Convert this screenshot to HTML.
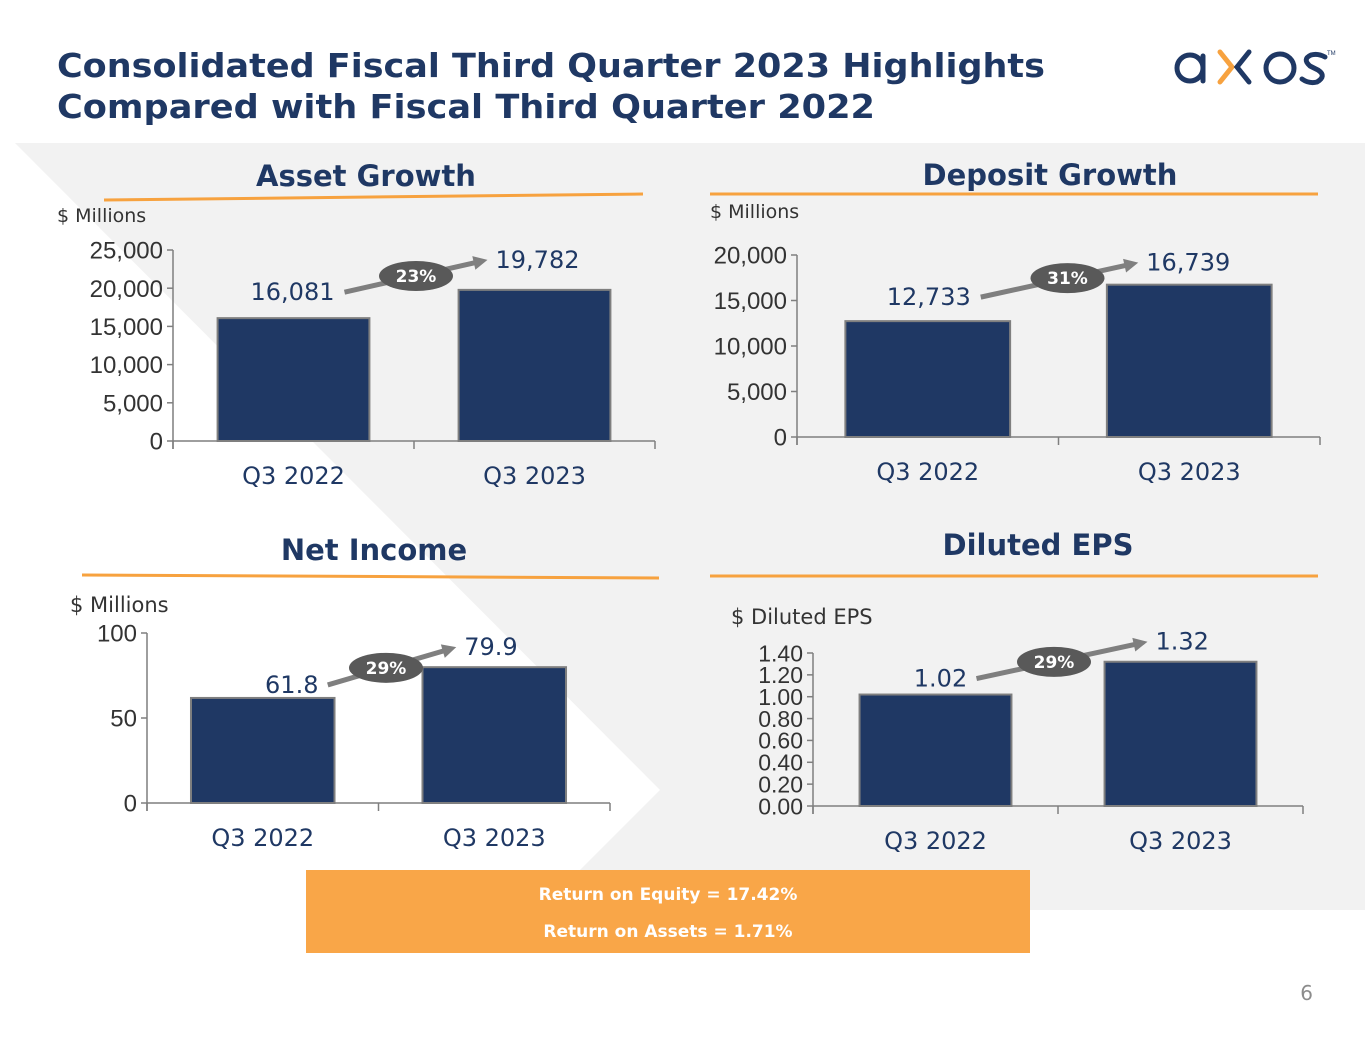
<!DOCTYPE html>
<html><head><meta charset="utf-8"><style>
html,body{margin:0;padding:0;background:#fff;}
svg{display:block;}
</style></head><body>
<svg id="s" width="1365" height="1055" viewBox="0 0 1365 1055" xmlns="http://www.w3.org/2000/svg">
<polygon points="15,143 1365,143 1365,910 540,910 660,790" fill="#f2f2f2"/>
<text x="57" y="77" font-family="DejaVu Sans, sans-serif" font-weight="bold" font-size="33" fill="#1f3864" textLength="988" lengthAdjust="spacingAndGlyphs">Consolidated Fiscal Third Quarter 2023 Highlights</text>
<text x="57" y="118" font-family="DejaVu Sans, sans-serif" font-weight="bold" font-size="33" fill="#1f3864" textLength="818" lengthAdjust="spacingAndGlyphs">Compared with Fiscal Third Quarter 2022</text>
<g fill="none" stroke-width="5" stroke-linecap="round">
<circle cx="1190" cy="68" r="13" stroke="#1f3864"/><line x1="1203" y1="56" x2="1203" y2="81" stroke="#1f3864"/>
<polyline points="1220,52 1232,67 1220,82" stroke="#f7a23f"/><polyline points="1249,52 1237,67 1249,82" stroke="#1f3864"/>
<circle cx="1280" cy="68" r="14" stroke="#1f3864"/>
<path d="M1325,57 Q1318,53 1311,55 Q1302,59 1310,66 L1318,70 Q1327,76 1317,82 Q1309,84 1302,79" stroke="#1f3864"/>
<text x="1327" y="55" font-size="6" fill="#1f3864" stroke="none" font-family="Liberation Sans, sans-serif">TM</text>
</g>
<g id="charts"></g>
<rect x="306" y="870" width="724" height="83" fill="#f9a648"/>
<text x="668" y="900" text-anchor="middle" font-family="DejaVu Sans, sans-serif" font-weight="bold" font-size="17" fill="#fff">Return on Equity = 17.42%</text>
<text x="668" y="937" text-anchor="middle" font-family="DejaVu Sans, sans-serif" font-weight="bold" font-size="17" fill="#fff">Return on Assets = 1.71%</text>
<text x="1313" y="1000" text-anchor="end" font-family="DejaVu Sans, sans-serif" font-size="20" fill="#8c8c8c">6</text>
</svg>
<script>
const categories = ["Q3 2022","Q3 2023"];
const assetValues = [16081, 19782];
const assetLabels = ["16,081","19,782"];
const assetTicks = [0,5000,10000,15000,20000,25000];
const assetTickLabels = ["0","5,000","10,000","15,000","20,000","25,000"];
const depositValues = [12733, 16739];
const depositLabels = ["12,733","16,739"];
const depositTicks = [0,5000,10000,15000,20000];
const depositTickLabels = ["0","5,000","10,000","15,000","20,000"];
const incomeValues = [61.8, 79.9];
const incomeLabels = ["61.8","79.9"];
const incomeTicks = [0,50,100];
const incomeTickLabels = ["0","50","100"];
const epsValues = [1.02, 1.32];
const epsLabels = ["1.02","1.32"];
const epsTicks = [0,0.2,0.4,0.6,0.8,1.0,1.2,1.4];
const epsTickLabels = ["0.00","0.20","0.40","0.60","0.80","1.00","1.20","1.40"];
const growthLabels = ["23%","31%","29%","29%"];

const NS="http://www.w3.org/2000/svg";
const root=document.getElementById('charts');
function mk(tag,attrs,parent,txt){const e=document.createElementNS(NS,tag);for(const k in attrs)e.setAttribute(k,attrs[k]);if(txt!==undefined)e.textContent=txt;(parent||root).appendChild(e);return e;}

function chart(c){
  const g=mk('g',{});
  
  
  const t=mk('text',{x:c.titleX,y:c.titleY,'text-anchor':'middle','font-family':'DejaVu Sans, sans-serif','font-weight':'bold','font-size':29,fill:'#1f3864'},g,c.title);
  
  
  const ul=mk('line',{x1:c.ul[0],y1:c.ul[1],x2:c.ul[2],y2:c.ul[3],stroke:'#f7a23f','stroke-width':3},g);
  
  
  const u=mk('text',{x:c.unitX,y:c.unitY,'font-family':'DejaVu Sans, sans-serif','font-size':c.unitSize,fill:'#333'},g,c.unit);
  
  
  const y=v=>c.y0-(v/c.max)*(c.y0-c.yTop);
  const xw=(c.x1-c.x0)/categories.length;
  const ya=mk('line',{x1:c.x0,y1:y(c.max),x2:c.x0,y2:c.y0+8,stroke:'#7f7f7f','stroke-width':1.5},g);
  
  
  c.ticks.forEach((tv,i)=>{
    mk('line',{x1:c.x0-6,x2:c.x0,y1:y(tv),y2:y(tv),stroke:'#7f7f7f','stroke-width':1.5},g);
    const tl=mk('text',{x:c.x0-10,y:y(tv)+c.tickSize*0.36,'text-anchor':'end','font-family':"'Liberation Sans', Arial, sans-serif",'font-size':c.tickSize,fill:'#333'},g,c.tickLabels[i]);
    
    
  });
  const xa=mk('line',{x1:c.x0,y1:c.y0,x2:c.x1,y2:c.y0,stroke:'#7f7f7f','stroke-width':1.5},g);
  
  
  for(let i=0;i<=categories.length;i++) mk('line',{x1:c.x0+i*xw,x2:c.x0+i*xw,y1:c.y0,y2:c.y0+8,stroke:'#7f7f7f','stroke-width':1.5},g);
  const cxs=[];
  c.values.forEach((v,i)=>{
    const cx=c.x0+xw*(i+0.5), bw=xw*c.bw;
    cxs.push(cx);
    const b=mk('rect',{x:cx-bw/2,y:y(v),width:bw,height:c.y0-y(v),fill:'#1f3864',stroke:'#7f7f7f','stroke-width':2},g);
    
    
    const xl=mk('text',{x:cx,y:c.y0+43,'text-anchor':'middle','font-family':'DejaVu Sans, sans-serif','font-size':24,fill:'#1f3864'},g,categories[i]);
    
    
  });
  // first label centered above bar (with offset), second label to the right of arrow
  const l0x=cxs[0]+c.l0dx, l0y=y(c.values[0])-c.l0gap;
  const l1x=cxs[1]+c.l1dx, l1y=y(c.values[1])-c.l1gap;
  const v0=mk('text',{x:l0x,y:l0y,'text-anchor':'middle','font-family':'DejaVu Sans, sans-serif','font-size':24,fill:'#1f3864'},g,c.labels[0]);
  
  
  const v1=mk('text',{x:l1x,y:l1y,'text-anchor':'start','font-family':'DejaVu Sans, sans-serif','font-size':24,fill:'#1f3864'},g,c.labels[1]);
  
  
  const p0=[l0x+c.halfW+8,l0y-8], p1=[l1x-8,l1y-8];
  const ang=Math.atan2(p1[1]-p0[1],p1[0]-p0[0]);
  const ar=mk('line',{x1:p0[0],y1:p0[1],x2:p1[0]-10*Math.cos(ang),y2:p1[1]-10*Math.sin(ang),stroke:'#7f7f7f','stroke-width':5},g);
  
  
  const hx=p1[0],hy=p1[1];
  mk('polygon',{points:`${hx},${hy} ${hx-14*Math.cos(ang)+7*Math.sin(ang)},${hy-14*Math.sin(ang)-7*Math.cos(ang)} ${hx-14*Math.cos(ang)-7*Math.sin(ang)},${hy-14*Math.sin(ang)+7*Math.cos(ang)}`,fill:'#7f7f7f'},g);
  const mx=(p0[0]+p1[0])/2+c.ovalDx, my=p0[1]+(p1[1]-p0[1])*(0.5+c.ovalDx/(p1[0]-p0[0]));
  const ov=mk('ellipse',{cx:mx,cy:my,rx:37,ry:15,fill:'#595959'},g);
  
  
  const ot=mk('text',{x:mx,y:my+6,'text-anchor':'middle','font-family':'DejaVu Sans, sans-serif','font-weight':'bold','font-size':17,fill:'#fff'},g,c.growth);
  
  
}

chart({name:'asset-growth-chart',title:'Asset Growth',titleX:366,titleY:186,ul:[104,200,643,194],unit:'$ Millions',unitX:57,unitY:222,unitSize:19,
  x0:173,x1:655,y0:441,yTop:250,max:25000,ticks:assetTicks,tickLabels:assetTickLabels,tickSize:24,bw:0.63,values:assetValues,labels:assetLabels,
  l0dx:-1,l0gap:18,l1dx:-39,l1gap:22,halfW:44,growth:growthLabels[0],ovalDx:0});
chart({name:'deposit-growth-chart',title:'Deposit Growth',titleX:1050,titleY:185,ul:[710,194,1318,194],unit:'$ Millions',unitX:710,unitY:218,unitSize:19,
  x0:797,x1:1320,y0:437,yTop:255,max:20000,ticks:depositTicks,tickLabels:depositTickLabels,tickSize:24,bw:0.63,values:depositValues,labels:depositLabels,
  l0dx:1,l0gap:16,l1dx:-43,l1gap:14,halfW:44,growth:growthLabels[1],ovalDx:8});
chart({name:'net-income-chart',title:'Net Income',titleX:374,titleY:560,ul:[82,575,659,578],unit:'$ Millions',unitX:70,unitY:612,unitSize:21,
  x0:147,x1:610,y0:803,yTop:633,max:100,ticks:incomeTicks,tickLabels:incomeTickLabels,tickSize:24,bw:0.62,values:incomeValues,labels:incomeLabels,
  l0dx:29,l0gap:5,l1dx:-30,l1gap:12,halfW:28,growth:growthLabels[2],ovalDx:-6});
chart({name:'diluted-eps-chart',title:'Diluted EPS',titleX:1038,titleY:555,ul:[710,576,1318,576],unit:'$ Diluted EPS',unitX:731,unitY:624,unitSize:21,
  x0:813,x1:1303,y0:806,yTop:653,max:1.4,ticks:epsTicks,tickLabels:epsTickLabels,tickSize:23,bw:0.62,values:epsValues,labels:epsLabels,
  l0dx:5,l0gap:8,l1dx:-25,l1gap:12,halfW:28,growth:growthLabels[3],ovalDx:-8});
</script>
</body></html>
